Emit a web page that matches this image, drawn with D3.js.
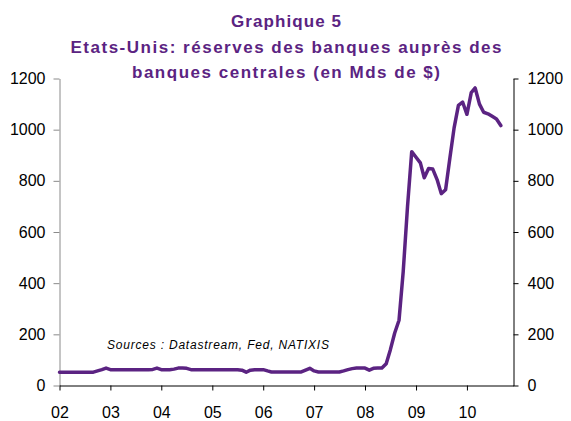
<!DOCTYPE html>
<html>
<head>
<meta charset="utf-8">
<script src="https://cdnjs.cloudflare.com/ajax/libs/d3/7.8.5/d3.min.js"></script>
<style>
  body { margin: 0; background: #fff; }
  svg { display: block; font-family: "Liberation Sans", Arial, sans-serif; }
</style>
</head>
<body>
<div id="chart"></div>
<script>
// monthly reserves, Mds $
var reserves2002 = [52, 52, 52, 52, 52, 52, 52, 52, 52, 57, 62, 68];
var reserves2003 = [62, 62, 62, 62, 62, 62, 62, 62, 62, 62, 63, 68];
var reserves2004 = [62, 62, 62, 64, 68, 68, 67, 62, 62, 62, 62, 62];
var reserves2005 = [62, 62, 62, 62, 62, 62, 62, 60, 52, 60, 62, 62];
var reserves2006 = [62, 57, 53, 53, 53, 53, 53, 53, 53, 53, 60, 67];
var reserves2007 = [57, 53, 53, 53, 53, 53, 53, 57, 62, 66, 68, 68];
var reserves2008 = [68, 60, 67, 68, 68, 85, 140, 205, 255, 445, 700, 914];
var reserves2009 = [892, 870, 812, 848, 846, 805, 750, 765, 890, 1007, 1095, 1108];
var reserves2010 = [1060, 1145, 1163, 1100, 1068, 1062, 1052, 1042, 1016];

var years = ["02", "03", "04", "05", "06", "07", "08", "09", "10"];
var yTicks = [0, 200, 400, 600, 800, 1000, 1200];

var titleLines = [
  "Graphique 5",
  "Etats-Unis: réserves des banques auprès des",
  "banques centrales (en Mds de $)"
];
var sourceText = "Sources : Datastream, Fed, NATIXIS";

var purple = "#5b2382";

var series = [].concat(reserves2002, reserves2003, reserves2004, reserves2005,
  reserves2006, reserves2007, reserves2008, reserves2009, reserves2010);
var data = series.map(function(v, i) {
  return { date: d3.timeMonth.offset(new Date(2002, 0, 1), i), value: v };
});

var width = 571, height = 421;
var svg = d3.select("#chart").append("svg")
  .attr("width", width)
  .attr("height", height);

var x = d3.scaleTime()
  .domain([new Date(2002, 0, 1), new Date(2010, 11, 1)])
  .range([59.5, 513.5]);
var y = d3.scaleLinear()
  .domain([0, 1200])
  .range([385.5, 78.5]);

// title
svg.append("g").selectAll("text")
  .data(titleLines)
  .enter().append("text")
  .attr("x", 286)
  .attr("y", function(d, i) { return 27 + i * 25.7; })
  .attr("text-anchor", "middle")
  .attr("textLength", function(d, i) { return [110, 431, 308][i]; })
  .attr("lengthAdjust", "spacing")
  .style("font-size", "17px")
  .style("font-weight", "bold")
  .style("fill", purple)
  .text(function(d) { return d; });

var fmt = d3.format("d");

// left axis (gray)
var leftAxis = svg.append("g")
  .attr("transform", "translate(59.5,0)")
  .call(d3.axisLeft(y).tickValues(yTicks).tickFormat(fmt)
    .tickSize(6).tickSizeOuter(0).tickPadding(8));
leftAxis.selectAll("path, line").attr("stroke", "#8a8a8a");

// right axis
var rightAxis = svg.append("g")
  .attr("transform", "translate(513.5,0)")
  .call(d3.axisRight(y).tickValues(yTicks).tickFormat(fmt)
    .tickSize(5).tickSizeOuter(0).tickPadding(9));
rightAxis.selectAll("path, line").attr("stroke", "#000");

// bottom axis
var bottomAxis = svg.append("g")
  .attr("transform", "translate(0,385.5)")
  .call(d3.axisBottom(x)
    .tickValues(years.map(function(d) { return new Date(2000 + (+d), 0, 1); }))
    .tickFormat(d3.timeFormat("%y"))
    .tickSize(5).tickSizeOuter(0).tickPadding(16));
bottomAxis.selectAll("path, line").attr("stroke", "#000");

svg.selectAll(".tick text")
  .style("font-size", "16px")
  .style("font-family", "'Liberation Sans', Arial, sans-serif")
  .style("fill", "#000");

// source note
svg.append("text")
  .attr("x", 107)
  .attr("y", 349)
  .attr("textLength", 222)
  .attr("lengthAdjust", "spacing")
  .style("font-size", "12px")
  .style("font-style", "italic")
  .style("fill", "#000")
  .text(sourceText);

// the series
var line = d3.line()
  .x(function(d) { return x(d.date); })
  .y(function(d) { return y(d.value); });

svg.append("path")
  .datum(data)
  .attr("d", line)
  .attr("fill", "none")
  .attr("stroke", purple)
  .attr("stroke-width", 3.5)
  .attr("stroke-linejoin", "round")
  .attr("stroke-linecap", "round");
</script>
</body>
</html>
